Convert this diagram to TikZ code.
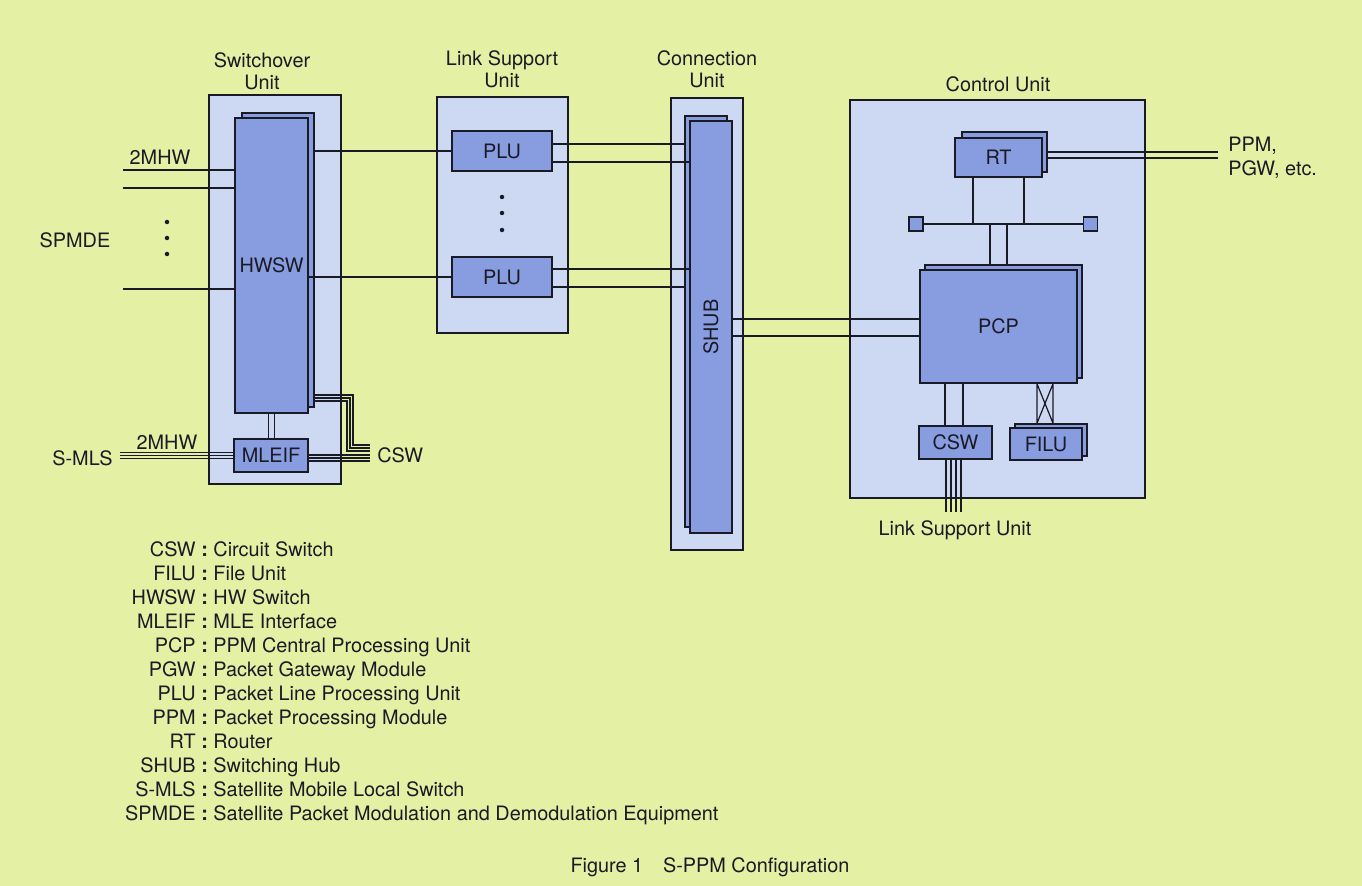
\documentclass[tikz,border=0pt]{standalone}
\usepackage{fontspec}
\setmainfont{TeX Gyre Heros}
\usepackage{graphicx}
\usetikzlibrary{calc}
\definecolor{ink}{HTML}{1A1A24}
\definecolor{page}{HTML}{E4F0A4}
\definecolor{unitc}{HTML}{CDD8F2}
\definecolor{compc}{HTML}{889CE0}
\tikzset{
  unit/.style={draw=ink,fill=unitc,line width=0.9pt,inner sep=0pt},
  comp/.style={draw=ink,fill=compc,line width=0.9pt,inner sep=0pt,text=ink},
  sqbox/.style={comp,minimum size=2.8mm},
  wire/.style={draw=ink,line width=0.8pt},
  bundle/.style={draw=ink,line width=0.7pt},
  lbl/.style={text=ink,inner sep=0pt,align=center}
}

\begin{document}
\begin{tikzpicture}[x=0.2mm,y=-0.2mm,font=\fontsize{11.3}{12.5}\selectfont]
  \fill[page] (0,0) rectangle (1362,886);
  \useasboundingbox (0,0) rectangle (1362,886);
  % units
  \node[unit,minimum width=26.4mm,minimum height=77.8mm] (swu) at (275,289.5) {};
  \node[unit,minimum width=26.2mm,minimum height=47.2mm] (lsu) at (502.5,215) {};
  \node[unit,minimum width=14.4mm,minimum height=90.4mm] (cnu) at (707,324) {};
  \node[unit,minimum width=59mm,minimum height=79.6mm] (ctu) at (997.5,299) {};
  \node[lbl] (swl) at (262,71) {Switchover\\Unit};
  \node[lbl] (lsl) at (502,69) {Link Support\\Unit};
  \node[lbl] (cnl) at (707,69) {Connection\\Unit};
  \node[lbl] (ctl) at (998,84) {Control Unit};
  % switchover unit
  \node[comp,minimum width=14.4mm,minimum height=58.8mm] (hwswb) at (278,260) {};
  \node[comp,minimum width=14.6mm,minimum height=59mm] (hwsw) at (271.5,265.5) {HWSW};
  \node[comp,minimum width=14.8mm,minimum height=6.6mm] (mleif) at (271,455.5) {MLEIF};
  % link support unit
  \node[comp,minimum width=20mm,minimum height=8mm] (plu1) at (502,151) {PLU};
  \node[comp,minimum width=20mm,minimum height=8mm] (plu2) at (502,277) {PLU};
  % connection unit
  \node[comp,minimum width=8.4mm,minimum height=82.2mm] (shubb) at (706,321.5) {};
  \node[comp,minimum width=8.4mm,minimum height=82.4mm] (shub) at (711,327) {\rotatebox{90}{SHUB}};
  % control unit
  \node[comp,minimum width=17mm,minimum height=8mm] (rtb) at (1004.5,152) {};
  \node[comp,minimum width=17.4mm,minimum height=7.8mm] (rt) at (998.5,157.5) {RT};
  \node[sqbox] (sql) at (916,224) {};
  \node[sqbox] (sqr) at (1090.5,224) {};
  \node[comp,minimum width=31.4mm,minimum height=22.6mm] (pcpb) at (1003.5,321.5) {};
  \node[comp,minimum width=31.4mm,minimum height=22.6mm] (pcp) at (998.5,326.5) {PCP};
  \node[comp,minimum width=14.6mm,minimum height=6.6mm] (csw) at (955.5,442.5) {CSW};
  \node[comp,minimum width=14.4mm,minimum height=6.4mm] (filub) at (1051,440) {};
  \node[comp,minimum width=14.4mm,minimum height=6.4mm] (filu) at (1046,444) {FILU};

  % SPMDE side
  \coordinate (spa) at (123,170);
  \coordinate (spb) at (123,188);
  \coordinate (spc) at (123,289);
  \foreach \c in {spa,spb,spc}
    \draw[wire] (\c) -- (\c -| hwsw.west);
  \foreach \y in {222,238,254}
    \fill[ink] (167,\y) circle (0.45mm);
  \foreach \y in {197,213,230}
    \fill[ink] (502,\y) circle (0.45mm);
  \node[lbl] (mhwa) at (160,157) {2MHW};
  \node[lbl] (spl) at (75,240) {SPMDE};

  % HWSW - PLU - SHUB
  \draw[wire] (plu1.west -| hwswb.east) -- (plu1.west);
  \draw[wire] (plu2.west -| hwsw.east) -- (plu2.west);
  \draw[wire] ([yshift=1.4mm]plu1.east) -- ([yshift=1.4mm]plu1.east -| shubb.west);
  \draw[wire] ([yshift=-2.2mm]plu1.east) -- ([yshift=-2.2mm]plu1.east -| shub.west);
  \draw[wire] ([yshift=1.6mm]plu2.east) -- ([yshift=1.6mm]plu2.east -| shub.west);
  \draw[wire] ([yshift=-2mm]plu2.east) -- ([yshift=-2mm]plu2.east -| shubb.west);
  \draw[wire] ([yshift=1.6mm]shub.east) -- ([yshift=1.6mm]shub.east -| pcp.west);
  \draw[wire] ([yshift=-1.8mm]shub.east) -- ([yshift=-1.8mm]shub.east -| pcp.west);

  % RT and bus
  \coordinate (ppm) at (1218,155);
  \draw[wire] ([yshift=0.6mm]ppm -| rtb.east) -- ([yshift=0.6mm]ppm);
  \draw[wire] ([yshift=-0.6mm]ppm -| rtb.east) -- ([yshift=-0.6mm]ppm);
  \node[lbl,anchor=west] (ppml) at (1228,146) {PPM,};
  \node[lbl,anchor=west] (pgwl) at (1228,170) {PGW, etc.};
  \draw[wire] (sql) -- (sqr);
  \foreach \dx in {-5.1,5.1}
    \draw[wire] ([xshift=\dx mm]rt.south) -- ([xshift=\dx mm]rt.south |- sql.east);
  \foreach \dx in {-1.7,1.7}
    \draw[wire] ([xshift=\dx mm]pcp.north |- sql.east) -- ([xshift=\dx mm]pcp.north |- pcpb.north);

  % PCP - CSW / FILU
  \foreach \dx in {-2.1,1.5}
    \draw[wire] ([xshift=\dx mm]csw.north |- pcp.south) -- ([xshift=\dx mm]csw.north);
  \coordinate (fa) at ([xshift=-1.8mm]filu.north |- pcp.south);
  \coordinate (fb) at ([xshift=1.4mm]filu.north |- pcp.south);
  \coordinate (fc) at (fa |- filub.north);
  \coordinate (fd) at (fb |- filub.north);
  \draw[bundle] (fa) -- (fc) (fb) -- (fd) (fa) -- (fd) (fb) -- (fc);
  \coordinate (lsuin) at (955,512);
  \foreach \dx in {-1.9,-0.9,0.1,1.1}
    \draw[bundle] ([xshift=\dx mm]csw.south) -- ([xshift=\dx mm]csw.south |- lsuin);
  \node[lbl,anchor=north] (lsul) at (955,520) {Link Support Unit};

  % HWSW - MLEIF - CSW
  \foreach \dx in {-0.6,0.6}
    \draw[bundle] ([xshift=\dx mm]hwsw.south) -- ([xshift=\dx mm]hwsw.south |- mleif.north);
  \coordinate (smls) at (120,455.5);
  \coordinate (cswin) at (370,458);
  \foreach \dy in {-0.6,0,0.6}{
    \draw[bundle] ([yshift=\dy mm]smls) -- ([yshift=\dy mm]smls -| mleif.west);
    \draw[bundle] ([yshift=\dy mm]cswin -| mleif.east) -- ([yshift=\dy mm]cswin);
  }
  \foreach \k [evaluate=\k as \ya using 395+3*\k, evaluate=\k as \yb using 445+3*\k,
      evaluate=\k as \xb using 353-3*\k] in {0,1,2}
    \draw[bundle] (hwswb.east |- 0,\ya) -| (\xb,\yb) -- (cswin |- 0,\yb);
  \node[lbl] (mhwb) at (167,442) {2MHW};
  \node[lbl,anchor=east] (smlsl) at (113,458) {S-MLS};
  \node[lbl,anchor=west] (cswl) at (377,455) {CSW};

  % legend
  \foreach \ab/\tx [count=\i] in {CSW/Circuit Switch,FILU/File Unit,HWSW/HW Switch,
      MLEIF/MLE Interface,PCP/PPM Central Processing Unit,PGW/Packet Gateway Module,
      PLU/Packet Line Processing Unit,PPM/Packet Processing Module,RT/Router,
      SHUB/Switching Hub,S-MLS/Satellite Mobile Local Switch,
      SPMDE/Satellite Packet Modulation and Demodulation Equipment}{
    \node[lbl,anchor=base east] (ab\i) at (196,{532+24*\i}) {\ab};
    \node[lbl,anchor=base west] (tx\i) at (201,{532+24*\i}) {\textbf{:}\ \tx};
  }
  \node[lbl] (cap) at (710,867) {Figure 1\hspace{1em}S-PPM Configuration};
\end{tikzpicture}
\end{document}
